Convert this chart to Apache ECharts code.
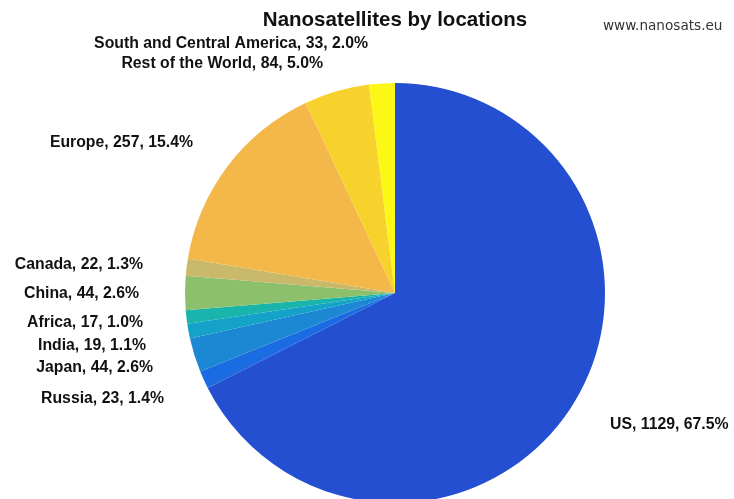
<!DOCTYPE html>
<html>
<head>
<meta charset="utf-8">
<script src="https://cdn.jsdelivr.net/npm/echarts@6/dist/echarts.min.js"></script>
<style>
  html, body { margin: 0; padding: 0; background: #ffffff; }
  #chart { width: 734px; height: 499px; }
</style>
</head>
<body>
<div id="chart"></div>
<script>
// Nanosatellites launched, grouped by location (clockwise from 12 o'clock)
const locations = ['US', 'Russia', 'Japan', 'India', 'Africa', 'China', 'Canada', 'Europe', 'Rest of the World', 'South and Central America'];
const counts = [1129, 23, 44, 19, 17, 44, 22, 257, 84, 33];
const sliceColors = ['#234fd0', '#1b6ce2', '#1c88d4', '#14a2c8', '#19b4ac', '#8cc06c', '#c9b96a', '#f3b74a', '#f8d22c', '#fcf716'];

// Label anchor placement: [x, y, align]
const labelSpots = [
  [610, 425, 'left'],
  [164, 399, 'right'],
  [153, 368, 'right'],
  [146, 346, 'right'],
  [143, 323, 'right'],
  [139, 294, 'right'],
  [143, 265, 'right'],
  [193, 143, 'right'],
  [323, 64, 'right'],
  [368, 44, 'right']
];

const total = counts.reduce((a, b) => a + b, 0);
const pieData = locations.map((name, i) => ({
  name: name,
  value: counts[i],
  itemStyle: { color: sliceColors[i] }
}));

const chart = echarts.init(document.getElementById('chart'), null, { renderer: 'canvas' });
chart.setOption({
  backgroundColor: '#ffffff',
  animation: false,
  title: [
    {
      text: 'Nanosatellites by locations',
      left: 390,
      top: 5,
      textAlign: 'center',
      textStyle: { fontFamily: 'Liberation Sans', fontWeight: 'bold', fontSize: 20.5, color: '#111111' }
    },
    {
      text: 'www.nanosats.eu',
      left: 598,
      top: 14,
      textStyle: { fontFamily: 'DejaVu Sans', fontWeight: 'normal', fontSize: 13.6, color: '#333333' }
    }
  ],
  series: [{
    type: 'pie',
    center: [395, 293],
    radius: 210,
    startAngle: 90,
    clockwise: true,
    avoidLabelOverlap: false,
    silent: true,
    itemStyle: { borderWidth: 0 },
    label: {
      show: true,
      position: 'outside',
      fontFamily: 'Liberation Sans',
      fontWeight: 'bold',
      fontSize: 15.8,
      color: '#111111',
      formatter: p => p.name + ', ' + p.value + ', ' + (p.value / total * 100).toFixed(1) + '%'
    },
    labelLine: { show: false },
    labelLayout: params => {
      const s = labelSpots[params.dataIndex];
      return { x: s[0], y: s[1], align: s[2], verticalAlign: 'middle' };
    },
    data: pieData
  }]
});
</script>
</body>
</html>
